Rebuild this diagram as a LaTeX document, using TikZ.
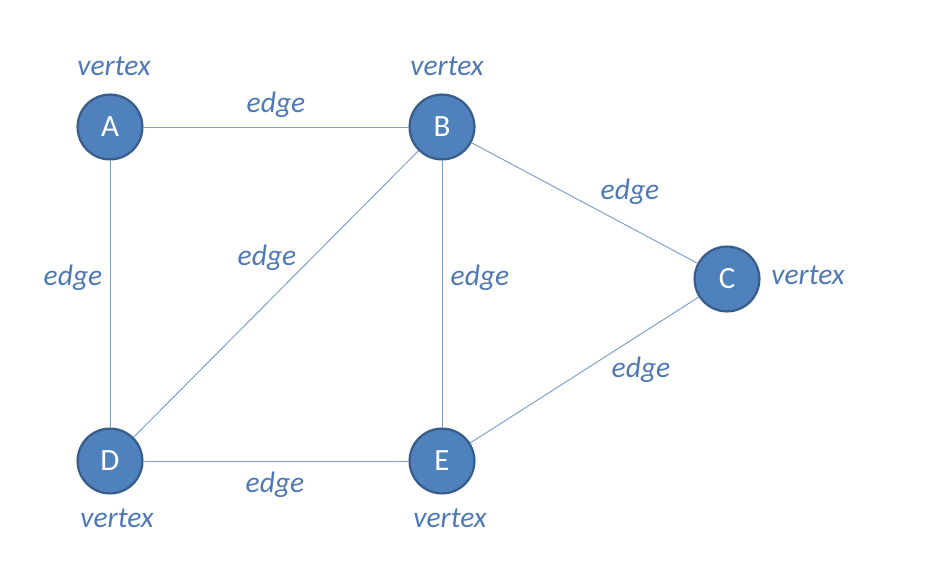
\documentclass[tikz,border=0pt]{standalone}
\usepackage{fontspec}
\setmainfont{Carlito}
\definecolor{vfill}{HTML}{4F81BD}
\definecolor{vdraw}{HTML}{385D8A}
\definecolor{elabel}{HTML}{4F79B5}
\definecolor{eline}{HTML}{7FA0CC}

\tikzset{
    vert/.style={circle, fill=vfill, draw=vdraw, line width=1.6pt, minimum size=1.62cm, inner sep=0pt, text=white, font=\fontsize{22}{26}\selectfont},
    lbl/.style={text=elabel, font=\fontsize{21}{25}\selectfont\itshape},
    edg/.style={draw=eline, line width=0.7pt}
}

\begin{document}
\begin{tikzpicture}[x=0.025cm, y=-0.025cm]
    \useasboundingbox (0,0) rectangle (939,563);
    % vertices
    \node [vert] (A) at (110,127) {A};
    \node [vert] (B) at (442,127) {B};
    \node [vert] (C) at (727,279) {C};
    \node [vert] (D) at (110,461) {D};
    \node [vert] (E) at (442,461) {E};
    % edges
    \draw [edg] (A) -- (B);
    \draw [edg] (A) -- (D);
    \draw [edg] (B) -- (D);
    \draw [edg] (B) -- (E);
    \draw [edg] (B) -- (C);
    \draw [edg] (C) -- (E);
    \draw [edg] (D) -- (E);
    % labels
    \node [lbl] (lA) at (114,66) {vertex};
    \node [lbl] (lB) at (447,66) {vertex};
    \node [lbl] (lC) at (808,275) {vertex};
    \node [lbl] (lD) at (117,518) {vertex};
    \node [lbl] (lE) at (450,518) {vertex};
    \node [lbl] (eAB) at (276,105) {edge};
    \node [lbl] (eAD) at (73,278) {edge};
    \node [lbl] (eBD) at (267,258) {edge};
    \node [lbl] (eBE) at (480,278) {edge};
    \node [lbl] (eBC) at (630,192) {edge};
    \node [lbl] (eCE) at (641,370) {edge};
    \node [lbl] (eDE) at (275,485) {edge};
\end{tikzpicture}
\end{document}
